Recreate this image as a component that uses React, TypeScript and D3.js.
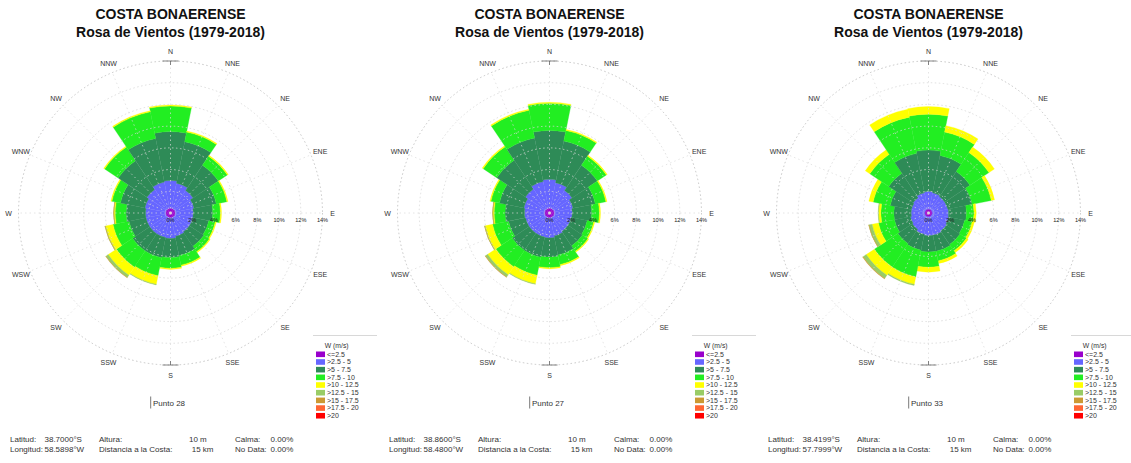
import * as d3 from 'd3';

// wind directions, clockwise from north
const directions = ['N', 'NNE', 'NE', 'ENE', 'E', 'ESE', 'SE', 'SSE', 'S', 'SSW', 'SW', 'WSW', 'W', 'WNW', 'NW', 'NNW'];
const speedBins = ['<=2.5', '>2.5 - 5', '>5 - 7.5', '>7.5 - 10', '>10 - 12.5', '>12.5 - 15', '>15 - 17.5', '>17.5 - 20', '>20'];
const binColors = ['#9900CC', '#6666FF', '#2E8B57', '#22EE22', '#FFFF00', '#99CC66', '#CC9933', '#FF6633', '#FF0000'];
const ringTicks = [0, 2, 4, 6, 8, 10, 12, 14];

// frequency (%) per speed bin (rows) and direction (columns)
const punto28 = [
  [0.45, 0.45, 0.45, 0.45, 0.45, 0.45, 0.45, 0.45, 0.45, 0.45, 0.45, 0.45, 0.45, 0.45, 0.45, 0.45],
  [2.55, 2.35, 2.05, 1.75, 1.65, 1.65, 1.65, 1.75, 1.9, 1.85, 1.85, 1.85, 1.85, 1.95, 2.15, 2.45],
  [4.5, 3.9, 2.8, 2.1, 1.8, 1.5, 1.6, 1.8, 1.75, 1.9, 1.9, 1.6, 1.8, 2.3, 3.2, 4.1],
  [2.35, 0.9, 1.0, 1.0, 0.7, 0.6, 0.6, 0.9, 1.0, 1.7, 1.8, 1.5, 1.0, 0.8, 1.5, 2.5],
  [0.1, 0.1, 0.1, 0.1, 0.1, 0.1, 0.1, 0.1, 0.1, 0.8, 0.9, 0.7, 0.1, 0.1, 0.1, 0.1],
  [0, 0, 0, 0, 0, 0, 0, 0, 0, 0.05, 0.25, 0.05, 0.03, 0, 0, 0],
  [0, 0, 0, 0, 0, 0, 0, 0, 0, 0, 0.03, 0.01, 0.02, 0, 0, 0],
  [0, 0, 0, 0, 0, 0, 0, 0, 0, 0, 0, 0, 0, 0, 0, 0],
  [0, 0, 0, 0, 0, 0, 0, 0, 0, 0, 0, 0, 0, 0, 0, 0],
];

const punto27 = [
  [0.45, 0.45, 0.45, 0.45, 0.45, 0.45, 0.45, 0.45, 0.45, 0.45, 0.45, 0.45, 0.45, 0.45, 0.45, 0.45],
  [2.65, 2.4, 2.05, 1.75, 1.65, 1.6, 1.6, 1.7, 1.85, 1.8, 1.8, 1.8, 1.85, 1.95, 2.2, 2.5],
  [4.5, 3.9, 2.8, 2.1, 1.8, 1.5, 1.6, 1.8, 1.75, 1.9, 1.9, 1.6, 1.8, 2.3, 3.2, 4.1],
  [2.5, 1.0, 1.0, 1.0, 0.7, 0.6, 0.6, 0.9, 1.0, 1.7, 1.8, 1.5, 1.0, 0.8, 1.5, 2.6],
  [0.1, 0.1, 0.1, 0.1, 0.1, 0.1, 0.1, 0.1, 0.1, 0.8, 0.9, 0.7, 0.1, 0.1, 0.1, 0.1],
  [0, 0, 0, 0, 0, 0, 0, 0, 0, 0.05, 0.25, 0.05, 0.03, 0, 0, 0],
  [0, 0, 0, 0, 0, 0, 0, 0, 0, 0, 0.03, 0.01, 0.02, 0, 0, 0],
  [0, 0, 0, 0, 0, 0, 0, 0, 0, 0, 0, 0, 0, 0, 0, 0],
  [0, 0, 0, 0, 0, 0, 0, 0, 0, 0, 0, 0, 0, 0, 0, 0],
];

const punto33 = [
  [0.35, 0.35, 0.35, 0.35, 0.35, 0.35, 0.35, 0.35, 0.35, 0.35, 0.35, 0.35, 0.35, 0.35, 0.35, 0.35],
  [1.65, 1.55, 1.45, 1.45, 1.5, 1.55, 1.65, 1.75, 1.75, 1.65, 1.45, 1.35, 1.25, 1.25, 1.35, 1.55],
  [3.8, 3.5, 2.8, 2.3, 1.65, 1.5, 1.5, 1.5, 1.5, 1.5, 1.6, 1.5, 1.6, 2.0, 2.7, 3.7],
  [3.3, 2.2, 2.1, 1.8, 0.7, 0.7, 0.7, 0.9, 1.4, 2.5, 2.6, 1.5, 1.2, 1.6, 2.1, 3.4],
  [0.7, 0.6, 0.6, 0.3, 0.2, 0.2, 0.2, 0.25, 0.45, 0.7, 0.9, 0.6, 0.2, 0.4, 0.5, 0.75],
  [0, 0, 0, 0, 0, 0, 0, 0, 0, 0.1, 0.35, 0.3, 0.05, 0, 0, 0],
  [0, 0, 0, 0, 0, 0, 0, 0, 0, 0, 0.05, 0.02, 0, 0, 0, 0],
  [0, 0, 0, 0, 0, 0, 0, 0, 0, 0, 0, 0, 0, 0, 0, 0],
  [0, 0, 0, 0, 0, 0, 0, 0, 0, 0, 0, 0, 0, 0, 0, 0],
];

const panelNames = ['Punto 28', 'Punto 27', 'Punto 33'];
const panelData = [punto28, punto27, punto33];
const latitudes = ['38.7000°S', '38.8600°S', '38.4199°S'];
const longitudes = ['58.5898°W', '58.4800°W', '57.7999°W'];

const W = 1131;
const H = 463;
const FONT = '"Liberation Sans", Arial, sans-serif';
const R = 152;

const rScale = d3.scaleLinear().domain([0, 14]).range([0, R]);
const arcGen = d3.arc<any>();
const toRad = (deg: number) => (deg * Math.PI) / 180;

function Rose({ data, index }: { data: number[][]; index: number }) {
  const ox = index * 379;
  const cx = 170.5 + ox;
  const cy = 213;

  const wedges: JSX.Element[] = [];
  directions.forEach((dir, j) => {
    let cum = 0;
    data.forEach((row, b) => {
      const v = row[j];
      if (v <= 0) return;
      const d = arcGen({
        innerRadius: rScale(cum),
        outerRadius: rScale(cum + v),
        startAngle: toRad(j * 22.5 - 11.25),
        endAngle: toRad(j * 22.5 + 11.25),
      });
      wedges.push(<path key={`${dir}-${b}`} d={d ?? ''} fill={binColors[b]} stroke={binColors[b]} strokeWidth={0.3} />);
      cum += v;
    });
  });

  const txt = { fontFamily: FONT, fill: '#333' };

  return (
    <g>
      {/* title */}
      <text x={cx} y={19.3} textAnchor="middle" fontSize={14} fontWeight="bold" {...txt} fill="#111">
        COSTA BONAERENSE
      </text>
      <text x={cx} y={36.7} textAnchor="middle" fontSize={14} fontWeight="bold" {...txt} fill="#111">
        Rosa de Vientos (1979-2018)
      </text>

      <g transform={`translate(${cx},${cy})`}>
        {wedges}
        {/* grid */}
        {ringTicks.slice(1).map((t) => (
          <circle
            key={t}
            r={rScale(t)}
            fill="none"
            stroke={t === 14 ? '#b8b8b8' : '#d6d6d6'}
            strokeWidth={0.8}
            strokeDasharray="1.5,2.5"
          />
        ))}
        {directions.map((dir, j) => {
          const a = toRad(j * 22.5);
          return (
            <line
              key={dir}
              x1={0}
              y1={0}
              x2={R * Math.sin(a)}
              y2={-R * Math.cos(a)}
              stroke="#dadada"
              strokeWidth={0.7}
              strokeDasharray="1.5,3"
            />
          );
        })}
        {/* N / S marks */}
        <line x1={-8} x2={8} y1={-R} y2={-R} stroke="#555" strokeWidth={0.7} />
        <line x1={0} x2={0} y1={-R} y2={-R + 4} stroke="#555" strokeWidth={0.7} />
        <line x1={-8} x2={8} y1={R} y2={R} stroke="#555" strokeWidth={0.7} />
        <line x1={0} x2={0} y1={R} y2={R - 4} stroke="#555" strokeWidth={0.7} />
        {/* direction labels */}
        {directions.map((dir, j) => {
          const a = toRad(j * 22.5);
          return (
            <text
              key={dir}
              x={162 * Math.sin(a)}
              y={-162 * Math.cos(a)}
              textAnchor="middle"
              dominantBaseline="central"
              fontSize={7}
              {...txt}
            >
              {dir}
            </text>
          );
        })}
        {/* percent labels */}
        {ringTicks.map((t) => (
          <text key={t} x={rScale(t)} y={9} textAnchor="middle" fontSize={5.6} {...txt} fill="#222">
            {`${t}%`}
          </text>
        ))}
      </g>

      {/* point name */}
      <line x1={150.7 + ox} x2={150.7 + ox} y1={396.5} y2={408.5} stroke="#555" strokeWidth={0.8} />
      <text x={153 + ox} y={406.3} fontSize={8} {...txt}>
        {panelNames[index]}
      </text>

      {/* legend */}
      <line x1={313 + ox} x2={377 + ox} y1={335.5} y2={335.5} stroke="#d8d8d8" strokeWidth={1} />
      <text x={336.7 + ox} y={348.3} textAnchor="middle" fontSize={6.8} {...txt}>
        W (m/s)
      </text>
      {speedBins.map((lab, b) => {
        const y = 354.3 + b * 7.68;
        return (
          <g key={lab}>
            <rect x={316 + ox} y={y - 2.8} width={9} height={5.6} fill={binColors[b]} />
            <text x={327 + ox} y={y + 2.4} fontSize={7} {...txt}>
              {lab}
            </text>
          </g>
        );
      })}

      {/* footer */}
      <g fontSize={8} {...txt}>
        <text x={10 + ox} y={442}>Latitud:</text>
        <text x={44.5 + ox} y={442}>{latitudes[index]}</text>
        <text x={10 + ox} y={452}>Longitud:</text>
        <text x={44.5 + ox} y={452}>{longitudes[index]}</text>
        <text x={99 + ox} y={442}>Altura:</text>
        <text x={99 + ox} y={452}>Distancia a la Costa:</text>
        <text x={189 + ox} y={442}>10 m</text>
        <text x={191.7 + ox} y={452}>15 km</text>
        <text x={235 + ox} y={442}>Calma:</text>
        <text x={293.3 + ox} y={442} textAnchor="end">0.00%</text>
        <text x={235 + ox} y={452}>No Data:</text>
        <text x={293.3 + ox} y={452} textAnchor="end">0.00%</text>
      </g>
    </g>
  );
}

export default function App() {
  return (
    <svg
      width={W}
      height={H}
      viewBox={`0 0 ${W} ${H}`}
      style={{ position: 'absolute', left: 0, top: 0, background: '#fff', display: 'block' }}
    >
      <rect width={W} height={H} fill="#fff" />
      {panelData.map((data, i) => (
        <Rose key={panelNames[i]} data={data} index={i} />
      ))}
    </svg>
  );
}
